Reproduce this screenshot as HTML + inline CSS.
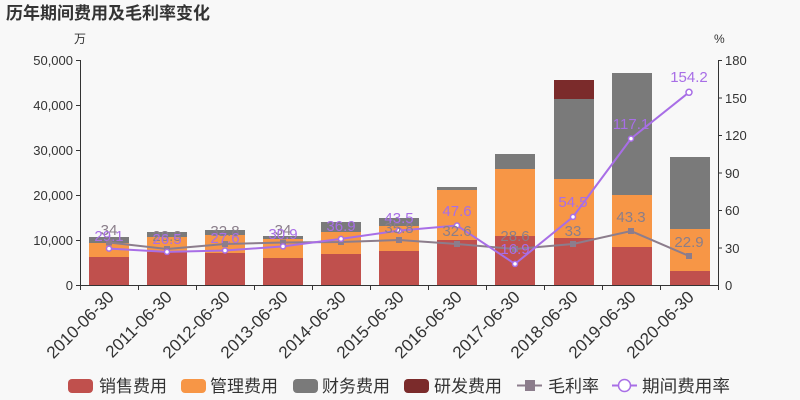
<!DOCTYPE html>
<html><head><meta charset="utf-8"><style>
body{margin:0;background:#f8f8f8;}
svg{display:block;font-family:"Liberation Sans","Noto Sans CJK SC",sans-serif;}
</style></head><body>
<svg width="800" height="400" xmlns="http://www.w3.org/2000/svg">
<rect width="800" height="400" fill="#f8f8f8"/>
<text x="6" y="19" font-size="17" font-weight="bold" fill="#333">历年期间费用及毛利率变化</text>
<text x="74" y="43" font-size="12" fill="#333">万</text>
<text x="714" y="43" font-size="12" fill="#333">%</text>
<g stroke="#333" stroke-width="1">
<line x1="80.5" y1="60" x2="80.5" y2="285"/>
<line x1="718.5" y1="60" x2="718.5" y2="285"/>
<line x1="80" y1="285.5" x2="718" y2="285.5"/>
</g>
<g font-size="13" fill="#333" text-anchor="end">
<text x="73" y="65">50,000</text><text x="73" y="110">40,000</text><text x="73" y="155">30,000</text>
<text x="73" y="200">20,000</text><text x="73" y="245">10,000</text><text x="73" y="290">0</text>
</g>
<g font-size="13" fill="#333">
<text x="725" y="65">180</text><text x="725" y="140">120</text><text x="725" y="178">90</text>
<text x="725" y="215">60</text><text x="725" y="253">30</text><text x="725" y="290">0</text>
<text x="725" y="103">150</text>
</g>
<g stroke="#333">
<line x1="76" y1="60.5" x2="80" y2="60.5"/><line x1="76" y1="105.5" x2="80" y2="105.5"/><line x1="76" y1="150.5" x2="80" y2="150.5"/><line x1="76" y1="195.5" x2="80" y2="195.5"/><line x1="76" y1="240.5" x2="80" y2="240.5"/><line x1="76" y1="285.5" x2="80" y2="285.5"/>
<line x1="718" y1="60.5" x2="722" y2="60.5"/><line x1="718" y1="98" x2="722" y2="98"/><line x1="718" y1="135.5" x2="722" y2="135.5"/><line x1="718" y1="173" x2="722" y2="173"/><line x1="718" y1="210.5" x2="722" y2="210.5"/><line x1="718" y1="248" x2="722" y2="248"/>
<line x1="138.5" y1="285" x2="138.5" y2="290"/><line x1="196.5" y1="285" x2="196.5" y2="290"/><line x1="254.5" y1="285" x2="254.5" y2="290"/><line x1="312.5" y1="285" x2="312.5" y2="290"/><line x1="370.5" y1="285" x2="370.5" y2="290"/><line x1="428.5" y1="285" x2="428.5" y2="290"/><line x1="486.5" y1="285" x2="486.5" y2="290"/><line x1="544.5" y1="285" x2="544.5" y2="290"/><line x1="602.5" y1="285" x2="602.5" y2="290"/><line x1="660.5" y1="285" x2="660.5" y2="290"/><line x1="80.5" y1="285" x2="80.5" y2="290"/><line x1="718.5" y1="285" x2="718.5" y2="290"/>
</g>
<g id="bars">
<rect x="89" y="257" width="40" height="28" fill="#c0504d"/><rect x="89" y="243" width="40" height="14" fill="#f79646"/><rect x="89" y="237" width="40" height="6" fill="#7a7a7a"/>
<rect x="147" y="252" width="40" height="33" fill="#c0504d"/><rect x="147" y="237" width="40" height="15" fill="#f79646"/><rect x="147" y="232" width="40" height="5" fill="#7a7a7a"/>
<rect x="205" y="253" width="40" height="32" fill="#c0504d"/><rect x="205" y="235" width="40" height="18" fill="#f79646"/><rect x="205" y="230" width="40" height="5" fill="#7a7a7a"/>
<rect x="263" y="258" width="40" height="27" fill="#c0504d"/><rect x="263" y="239" width="40" height="19" fill="#f79646"/><rect x="263" y="236" width="40" height="3" fill="#7a7a7a"/>
<rect x="321" y="254" width="40" height="31" fill="#c0504d"/><rect x="321" y="232" width="40" height="22" fill="#f79646"/><rect x="321" y="222" width="40" height="10" fill="#7a7a7a"/>
<rect x="379" y="251" width="40" height="34" fill="#c0504d"/><rect x="379" y="226" width="40" height="25" fill="#f79646"/><rect x="379" y="218" width="40" height="8" fill="#7a7a7a"/>
<rect x="437" y="240" width="40" height="45" fill="#c0504d"/><rect x="437" y="190" width="40" height="50" fill="#f79646"/><rect x="437" y="187" width="40" height="3" fill="#7a7a7a"/>
<rect x="495" y="236" width="40" height="49" fill="#c0504d"/><rect x="495" y="169" width="40" height="67" fill="#f79646"/><rect x="495" y="154" width="40" height="15" fill="#7a7a7a"/>
<rect x="554" y="238" width="40" height="47" fill="#c0504d"/><rect x="554" y="179" width="40" height="59" fill="#f79646"/><rect x="554" y="99" width="40" height="80" fill="#7a7a7a"/><rect x="554" y="80" width="40" height="19" fill="#7b2b2b"/>
<rect x="612" y="247" width="40" height="38" fill="#c0504d"/><rect x="612" y="195" width="40" height="52" fill="#f79646"/><rect x="612" y="73" width="40" height="122" fill="#7a7a7a"/>
<rect x="670" y="271" width="40" height="14" fill="#c0504d"/><rect x="670" y="229" width="40" height="42" fill="#f79646"/><rect x="670" y="157" width="40" height="72" fill="#7a7a7a"/>
</g>
<polyline fill="none" stroke="#8c7d8c" stroke-width="2" points="109,242.5 167,249 225,244 283,242.5 341,242 399,240 457,244 515,249 573,244 631,231 689,256"/>
<g fill="#8c7d8c">
<rect x="106" y="239.5" width="6" height="6"/><rect x="164" y="246" width="6" height="6"/><rect x="222" y="241" width="6" height="6"/><rect x="280" y="239.5" width="6" height="6"/><rect x="338" y="239" width="6" height="6"/><rect x="396" y="237" width="6" height="6"/><rect x="454" y="241" width="6" height="6"/><rect x="512" y="246" width="6" height="6"/><rect x="570" y="241" width="6" height="6"/><rect x="628" y="228" width="6" height="6"/><rect x="686" y="253" width="6" height="6"/>
</g>
<polyline fill="none" stroke="#a86ee6" stroke-width="2" points="109,248.6 167,251.9 225,250.5 283,246.4 341,238.9 399,230.6 457,225.5 515,263.9 573,216.9 631,138.6 689,92.3"/>
<g fill="#fff" stroke="#a86ee6" stroke-width="1.5">
<circle cx="109" cy="248.6" r="2.5"/><circle cx="167" cy="251.9" r="2.5"/><circle cx="225" cy="250.5" r="2.5"/><circle cx="283" cy="246.4" r="2.5"/><circle cx="341" cy="238.9" r="2.5"/><circle cx="399" cy="230.6" r="2.5"/><circle cx="457" cy="225.5" r="2.5"/><circle cx="515" cy="263.9" r="2.5"/><circle cx="573" cy="216.9" r="2.5"/><circle cx="631" cy="138.6" r="2.5"/><circle cx="689" cy="92.3" r="3"/>
</g>
<g font-size="15" fill="#8a7e8a" text-anchor="middle">
<text x="109" y="235">34</text><text x="167" y="241">28.8</text><text x="225" y="236">32.8</text><text x="283" y="235">34</text><text x="399" y="233">35.8</text><text x="457" y="236">32.6</text><text x="515" y="241">28.6</text><text x="573" y="236">33</text><text x="631" y="222">43.3</text><text x="689" y="247">22.9</text>
</g>
<g font-size="15" fill="#a86ee6" text-anchor="middle">
<text x="109" y="241">29.1</text><text x="167" y="244">26.5</text><text x="225" y="243">27.6</text><text x="283" y="239">30.9</text><text x="341" y="231">36.9</text><text x="399" y="223">43.5</text><text x="457" y="216">47.6</text><text x="515" y="254">16.9</text><text x="573" y="207">54.5</text><text x="631" y="129">117.1</text><text x="689" y="82">154.2</text>
</g>
<g font-size="17" fill="#333" text-anchor="end">
<text transform="translate(115,298) rotate(-45)">2010-06-30</text>
<text transform="translate(173,298) rotate(-45)">2011-06-30</text>
<text transform="translate(231,298) rotate(-45)">2012-06-30</text>
<text transform="translate(289,298) rotate(-45)">2013-06-30</text>
<text transform="translate(347,298) rotate(-45)">2014-06-30</text>
<text transform="translate(405,298) rotate(-45)">2015-06-30</text>
<text transform="translate(463,298) rotate(-45)">2016-06-30</text>
<text transform="translate(521,298) rotate(-45)">2017-06-30</text>
<text transform="translate(579,298) rotate(-45)">2018-06-30</text>
<text transform="translate(637,298) rotate(-45)">2019-06-30</text>
<text transform="translate(695,298) rotate(-45)">2020-06-30</text>
</g>
<g font-size="17" fill="#333">
<rect x="68" y="379" width="25" height="14" rx="4" fill="#c0504d"/><text x="99" y="392" textLength="68" lengthAdjust="spacingAndGlyphs">销售费用</text>
<rect x="181" y="379" width="25" height="14" rx="4" fill="#f79646"/><text x="210" y="392" textLength="68" lengthAdjust="spacingAndGlyphs">管理费用</text>
<rect x="293" y="379" width="25" height="14" rx="4" fill="#7a7a7a"/><text x="322" y="392" textLength="68" lengthAdjust="spacingAndGlyphs">财务费用</text>
<rect x="404" y="379" width="25" height="14" rx="4" fill="#7b2b2b"/><text x="434" y="392" textLength="68" lengthAdjust="spacingAndGlyphs">研发费用</text>
<line x1="517" y1="385.5" x2="542" y2="385.5" stroke="#8c7d8c" stroke-width="2"/><rect x="525" y="380" width="10" height="11" fill="#8c7d8c"/><text x="548" y="392" textLength="51" lengthAdjust="spacingAndGlyphs">毛利率</text>
<line x1="612" y1="385.5" x2="637" y2="385.5" stroke="#a86ee6" stroke-width="2"/><circle cx="624.5" cy="385.5" r="6" fill="#fff" stroke="#a86ee6" stroke-width="1.5"/><text x="642" y="392" textLength="88" lengthAdjust="spacingAndGlyphs">期间费用率</text>
</g>
</svg>
</body></html>
